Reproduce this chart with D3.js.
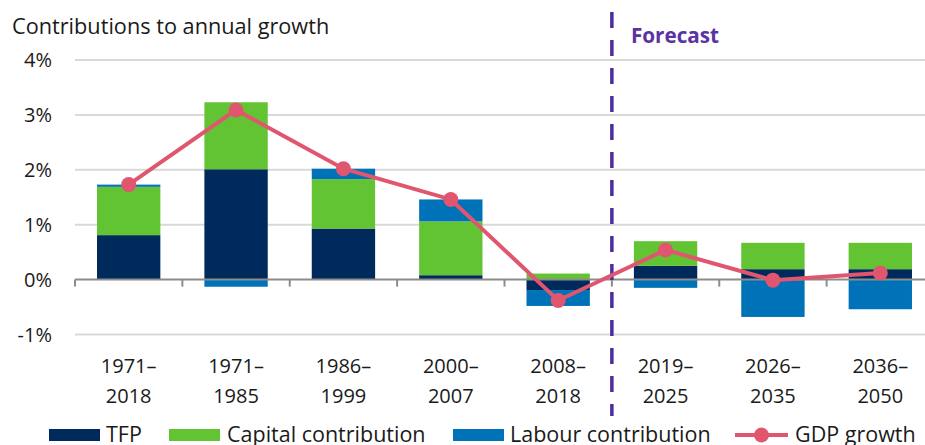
<!DOCTYPE html>
<html>
<head>
<meta charset="utf-8">
<script src="https://cdn.jsdelivr.net/npm/d3@7"></script>
<style>
  html, body { margin: 0; padding: 0; background: #fff; }
  svg { display: block; font-family: "Open Sans", "Noto Sans", sans-serif; }
</style>
</head>
<body>
<svg id="chart" width="925" height="445"></svg>
<script>
// ---- data ----
const categories = ["1971–2018", "1971–1985", "1986–1999", "2000–2007", "2008–2018", "2019–2025", "2026–2035", "2036–2050"];
const tfp     = [0.81, 2.01, 0.93, 0.08, -0.19, 0.25, 0.19, 0.19];
const capital = [0.88, 1.22, 0.90, 0.98, 0.11, 0.45, 0.48, 0.48];
const labour  = [0.04, -0.13, 0.19, 0.40, -0.29, -0.15, -0.68, -0.54];
const gdp     = [1.73, 3.09, 2.02, 1.46, -0.38, 0.54, -0.01, 0.12];
const yTicks  = [-1, 0, 1, 2, 3, 4];
const seriesNames = ["TFP", "Capital contribution", "Labour contribution", "GDP growth"];
const forecastStart = "2019–2025";

// ---- layout ----
const colors = { TFP: "#002a5c", Capital: "#63c433", Labour: "#0073b8", GDP: "#e0566e" };
const svg = d3.select("#chart");
const x = d3.scaleBand().domain(categories).range([75, 934]).paddingInner(0.41).paddingOuter(0.205);
const y = d3.scaleLinear().domain([-1, 4]).range([334.5, 60]);

const table = categories.map((c, i) => ({ cat: c, TFP: tfp[i], Capital: capital[i], Labour: labour[i] }));
const stack = d3.stack().keys(["TFP", "Capital", "Labour"]).offset(d3.stackOffsetDiverging);
const stacked = stack(table);

// title
svg.append("text").attr("x", 12).attr("y", 34).attr("font-size", 21.7).attr("fill", "#1a1a1a")
  .text("Contributions to annual growth");

// gridlines
svg.append("g").selectAll("line").data(yTicks.filter(d => d !== 0)).join("line")
  .attr("x1", 75).attr("x2", 925).attr("y1", d => y(d)).attr("y2", d => y(d))
  .attr("stroke", "#d9d9d9").attr("stroke-width", 2);

// y labels
svg.append("g").selectAll("text").data(yTicks).join("text")
  .attr("x", 52).attr("y", d => y(d) + 7).attr("text-anchor", "end")
  .attr("font-size", 20).attr("fill", "#1a1a1a")
  .text(d => d + "%");

// bars
svg.append("g").selectAll("g").data(stacked).join("g")
  .attr("fill", d => colors[d.key])
  .selectAll("rect").data(d => d).join("rect")
  .attr("x", d => x(d.data.cat))
  .attr("width", x.bandwidth())
  .attr("y", d => y(Math.max(d[0], d[1])))
  .attr("height", d => Math.abs(y(d[0]) - y(d[1])));

// zero axis with ticks
const boundaries = categories.map(c => x(c) - x.step() * x.paddingInner() / 2).concat([934]);
svg.append("line").attr("x1", 75).attr("x2", 925).attr("y1", y(0)).attr("y2", y(0))
  .attr("stroke", "#8c8c8c").attr("stroke-width", 2);
svg.append("g").selectAll("line").data(boundaries).join("line")
  .attr("x1", d => d).attr("x2", d => d).attr("y1", y(0)).attr("y2", y(0) + 7)
  .attr("stroke", "#8c8c8c").attr("stroke-width", 2);

// x labels
const xl = svg.append("g").selectAll("text").data(categories).join("text")
  .attr("text-anchor", "middle").attr("font-size", 20).attr("fill", "#1a1a1a");
xl.append("tspan").attr("x", d => x(d) + x.bandwidth() / 2).attr("y", 372.5).text(d => d.split("–")[0] + "–");
xl.append("tspan").attr("x", d => x(d) + x.bandwidth() / 2).attr("y", 402.5).text(d => d.split("–")[1]);

// forecast divider
const fx = x(forecastStart) - x.step() * x.paddingInner() / 2;
svg.append("line").attr("x1", fx).attr("x2", fx).attr("y1", 12).attr("y2", 416)
  .attr("stroke", "#4f2d9c").attr("stroke-width", 3.5).attr("stroke-dasharray", "16 12");
svg.append("text").attr("x", fx + 19).attr("y", 43).attr("font-size", 20.7).attr("font-weight", "bold")
  .attr("fill", "#5b33a3").text("Forecast");

// GDP line
const cx = c => x(c) + x.bandwidth() / 2;
svg.append("path").datum(gdp)
  .attr("fill", "none").attr("stroke", colors.GDP).attr("stroke-width", 4)
  .attr("d", d3.line().x((d, i) => cx(categories[i])).y(d => y(d)));
svg.append("g").selectAll("circle").data(gdp).join("circle")
  .attr("cx", (d, i) => cx(categories[i])).attr("cy", d => y(d)).attr("r", 7.5)
  .attr("fill", colors.GDP);

// legend
const lg = svg.append("g");
const legendItems = [
  { key: "TFP", label: seriesNames[0], x: 49, tx: 106 },
  { key: "Capital", label: seriesNames[1], x: 169, tx: 227 },
  { key: "Labour", label: seriesNames[2], x: 453, tx: 510 },
];
legendItems.forEach(it => {
  lg.append("rect").attr("x", it.x).attr("y", 429).attr("width", 51).attr("height", 12).attr("fill", colors[it.key]);
  lg.append("text").attr("x", it.tx).attr("y", 442).attr("font-size", 21.5).attr("fill", "#1a1a1a").text(it.label);
});
lg.append("line").attr("x1", 735).attr("x2", 788).attr("y1", 435).attr("y2", 435)
  .attr("stroke", colors.GDP).attr("stroke-width", 4);
lg.append("circle").attr("cx", 761.5).attr("cy", 435).attr("r", 7.5).attr("fill", colors.GDP);
lg.append("text").attr("x", 795).attr("y", 442).attr("font-size", 21.5).attr("fill", "#1a1a1a").text(seriesNames[3]);
</script>
</body>
</html>
